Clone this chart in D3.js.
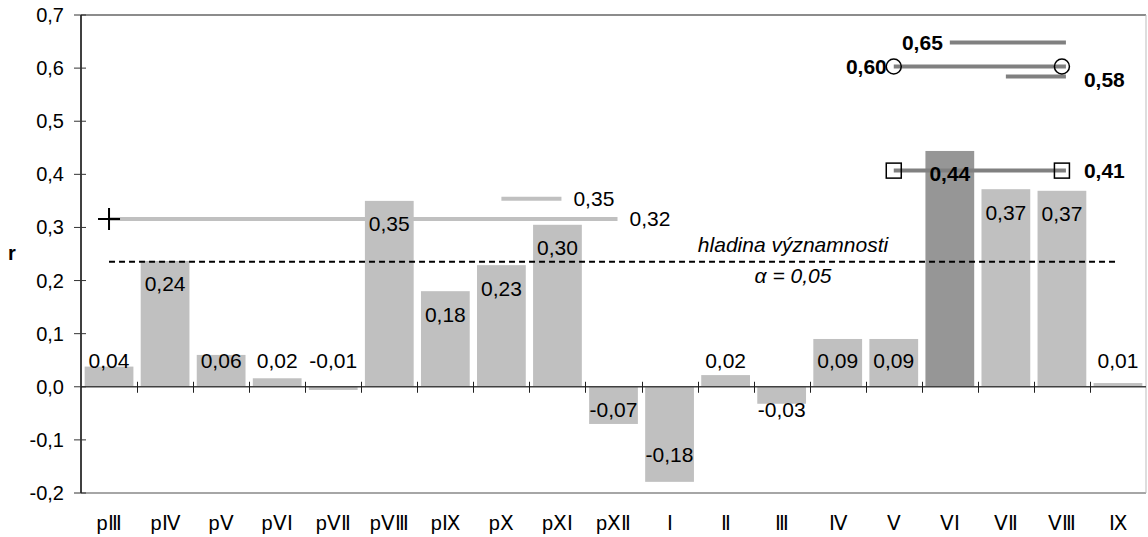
<!DOCTYPE html>
<html>
<head>
<meta charset="utf-8">
<script src="https://cdnjs.cloudflare.com/ajax/libs/d3/7.8.5/d3.min.js"></script>
<style>
  body { margin: 0; background: #fff; }
  svg { display: block; font-family: "Liberation Sans", Arial, sans-serif; }
</style>
</head>
<body>
<script>
// categories (months of previous + current year)
const cats = ["pⅢ", "pⅣ", "pⅤ", "pⅤⅠ", "pⅤⅡ", "pⅤⅢ", "pⅨ", "pⅩ", "pⅩⅠ", "pⅩⅡ",
  "Ⅰ", "Ⅱ", "Ⅲ", "Ⅳ", "Ⅴ", "ⅤⅠ", "ⅤⅡ", "ⅤⅢ", "Ⅸ"];
// correlation r per month
const vals = [0.038, 0.237, 0.06, 0.016, -0.006, 0.35, 0.18, 0.229, 0.305, -0.07,
  -0.179, 0.022, -0.032, 0.09, 0.09, 0.444, 0.372, 0.369, 0.007];
const yTicks = [-0.2, -0.1, 0, 0.1, 0.2, 0.3, 0.4, 0.5, 0.6, 0.7];

// period correlations (segments spanning months)
const segVals = [0.316, 0.354, 0.407, 0.603, 0.648, 0.584];
const segFrom = ["pⅢ", "pⅩ", "Ⅴ", "Ⅴ", "ⅤⅠ", "ⅤⅡ"];
const segTo = ["pⅩⅡ", "pⅩⅠ", "ⅤⅢ", "ⅤⅢ", "ⅤⅢ", "ⅤⅢ"];
const segLabels = ["0,32", "0,35", "0,41", "0,60", "0,65", "0,58"];

const signif = 0.2356;

var w = 1148, h = 537;
var mLeft = 81, mRight = 1146, mTop = 15, mBottom = 493;
var loc = d3.formatLocale({ decimal: ",", thousands: " ", grouping: [3], currency: ["", ""], minus: "-" });
var fmt = loc.format(".2f");
var fmtAxis = loc.format(".1f");

var svg = d3.select("body").append("svg").attr("width", w).attr("height", h);

var x = d3.scaleBand().domain(cats).range([mLeft, mRight]).paddingInner(0.13).paddingOuter(0.065);
var y = d3.scaleLinear().domain([-0.2, 0.7]).range([mBottom, mTop]);
var cx = function (c) { return x(c) + x.bandwidth() / 2; };
var y0 = y(0);

// frame
svg.append("line").attr("x1", mLeft).attr("x2", mRight).attr("y1", mTop).attr("y2", mTop)
  .style("stroke", "#8c8c8c").style("stroke-width", 2);
svg.append("line").attr("x1", mLeft).attr("x2", mRight).attr("y1", mBottom).attr("y2", mBottom)
  .style("stroke", "#a6a6a6").style("stroke-width", 2);
svg.append("line").attr("x1", mRight).attr("x2", mRight).attr("y1", mTop).attr("y2", mBottom)
  .style("stroke", "#bdbdbd").style("stroke-width", 1);

// light segments behind the bars
var segIdx = d3.range(segVals.length);
var segColor = ["#c0c0c0", "#c0c0c0", "#808080", "#808080", "#808080", "#808080"];
svg.append("g").selectAll("line")
  .data(segIdx.filter(function (i) { return i < 2; }))
  .enter().append("line")
  .attr("x1", function (i) { return cx(segFrom[i]); })
  .attr("x2", function (i) { return cx(segTo[i]) + 4; })
  .attr("y1", function (i) { return y(segVals[i]); })
  .attr("y2", function (i) { return y(segVals[i]); })
  .style("stroke", function (i) { return segColor[i]; })
  .style("stroke-width", 4);

// bars
svg.append("g").selectAll("rect")
  .data(cats)
  .enter().append("rect")
  .attr("x", function (d) { return x(d); })
  .attr("width", x.bandwidth())
  .attr("y", function (d, i) { return y(Math.max(0, vals[i])); })
  .attr("height", function (d, i) { return Math.abs(y(vals[i]) - y0); })
  .style("fill", function (d) { return d === "ⅤⅠ" ? "#969696" : "#c0c0c0"; });

// dark segments on top
svg.append("g").selectAll("line")
  .data(segIdx.filter(function (i) { return i >= 2; }))
  .enter().append("line")
  .attr("x1", function (i) { return cx(segFrom[i]); })
  .attr("x2", function (i) { return cx(segTo[i]) + 4; })
  .attr("y1", function (i) { return y(segVals[i]); })
  .attr("y2", function (i) { return y(segVals[i]); })
  .style("stroke", function (i) { return segColor[i]; })
  .style("stroke-width", 4);

// zero axis with ticks at category boundaries
svg.append("line").attr("x1", mLeft).attr("x2", mRight).attr("y1", y0).attr("y2", y0)
  .style("stroke", "#404040").style("stroke-width", 1.5);
var step = x.step();
svg.append("g").selectAll("line")
  .data(cats.slice(1))
  .enter().append("line")
  .attr("x1", function (d) { return Math.round(x(d) - step * x.paddingInner() / 2) + 0.5; })
  .attr("x2", function (d) { return Math.round(x(d) - step * x.paddingInner() / 2) + 0.5; })
  .attr("y1", y0 - 5).attr("y2", y0 + 6)
  .style("stroke", "#202020").style("stroke-width", 1);

// y axis
svg.append("line").attr("x1", mLeft).attr("x2", mLeft).attr("y1", mTop).attr("y2", mBottom)
  .style("stroke", "#000").style("stroke-width", 1.5);
var yt = svg.append("g").selectAll("g").data(yTicks).enter().append("g");
yt.append("line")
  .attr("x1", mLeft - 7).attr("x2", mLeft + 5)
  .attr("y1", function (d) { return y(d); }).attr("y2", function (d) { return y(d); })
  .style("stroke", "#333").style("stroke-width", 1);
yt.append("text")
  .attr("x", 64).attr("y", function (d) { return y(d) + 7; })
  .attr("text-anchor", "end")
  .style("font-size", "20px")
  .text(function (d) { return fmtAxis(d); });

svg.append("text").attr("x", 12).attr("y", 260).attr("text-anchor", "middle")
  .style("font-size", "20px").style("font-weight", "bold").text("r");

// category labels
svg.append("g").selectAll("text")
  .data(cats).enter().append("text")
  .attr("x", function (d) { return cx(d); })
  .attr("y", 530)
  .attr("text-anchor", "middle")
  .style("font-size", "20px")
  .text(function (d) { return d; });

// significance line
svg.append("line")
  .attr("x1", cx(cats[0])).attr("x2", cx(cats[cats.length - 1]))
  .attr("y1", y(signif)).attr("y2", y(signif))
  .style("stroke", "#000").style("stroke-width", 2).style("stroke-dasharray", "6,4");
svg.append("text").attr("x", 793).attr("y", y(signif) - 10).attr("text-anchor", "middle")
  .style("font-size", "21px").style("font-style", "italic").text("hladina významnosti");
svg.append("text").attr("x", 793).attr("y", y(signif) + 21).attr("text-anchor", "middle")
  .style("font-size", "21px").style("font-style", "italic").text("α = 0,05");

// markers
svg.append("path")
  .attr("d", "M" + (cx(segFrom[0]) - 11) + "," + y(segVals[0]) + "h22M" + cx(segFrom[0]) + "," + (y(segVals[0]) - 11) + "v22")
  .style("stroke", "#000").style("stroke-width", 2);
svg.append("g").selectAll("rect")
  .data([segFrom[2], segTo[2]]).enter().append("rect")
  .attr("x", function (d) { return cx(d) - 7.5; })
  .attr("y", y(segVals[2]) - 7.5)
  .attr("width", 15).attr("height", 15)
  .style("fill", "none").style("stroke", "#000").style("stroke-width", 1.5);
svg.append("g").selectAll("circle")
  .data([segFrom[3], segTo[3]]).enter().append("circle")
  .attr("cx", function (d) { return cx(d); })
  .attr("cy", y(segVals[3]))
  .attr("r", 7.5)
  .style("fill", "none").style("stroke", "#000").style("stroke-width", 1.5);

// segment labels
var segSide = ["right", "right", "right", "left", "left", "right"];
svg.append("g").selectAll("text")
  .data(segIdx).enter().append("text")
  .attr("x", function (i) {
    if (segSide[i] === "left") return cx(segFrom[i]) - 7;
    return cx(segTo[i]) + (i < 2 ? 16 : 22);
  })
  .attr("y", function (i) { return y(segVals[i]) + 7 + (i === 5 ? 3 : 0); })
  .attr("text-anchor", function (i) { return segSide[i] === "left" ? "end" : "start"; })
  .style("font-size", "21px")
  .style("font-weight", function (i) { return i >= 2 ? "bold" : "normal"; })
  .text(function (i) { return segLabels[i]; });

// bar value labels
svg.append("g").selectAll("text")
  .data(cats).enter().append("text")
  .attr("x", function (d) { return cx(d); })
  .attr("y", function (d, i) {
    var v = vals[i], c;
    if (v >= 0 || Math.abs(v) < 0.01) c = Math.min(y(Math.max(v, 0)) + 23, y0 - 26);
    else c = Math.max(y(v) - 27, y0 + 23);
    return c + 7.5;
  })
  .attr("text-anchor", "middle")
  .style("font-size", "21px")
  .style("font-weight", function (d) { return d === "ⅤⅠ" ? "bold" : "normal"; })
  .text(function (d, i) { return fmt(vals[i]); });
</script>
</body>
</html>
